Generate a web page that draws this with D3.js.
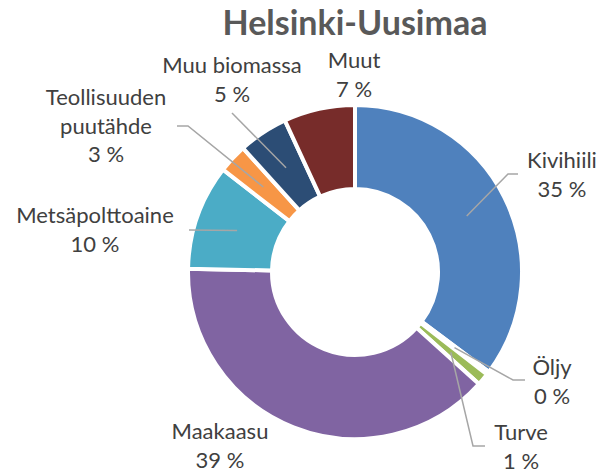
<!DOCTYPE html>
<html>
<head>
<meta charset="utf-8">
<script src="https://cdn.jsdelivr.net/npm/d3@7"></script>
<style>
  body { margin: 0; background: #fff; }
  .title { font-family: Lato, sans-serif; font-weight: bold; fill: #595959; }
  .labels { font-family: Lato, sans-serif; fill: #404040; }
</style>
</head>
<body>
<script>
//chart data
var categories = ["Kivihiili", "Öljy", "Turve", "Maakaasu", "Metsäpolttoaine", "Teollisuuden puutähde", "Muu biomassa", "Muut"];
var shares = [35.2, 0.3, 1.2, 38.6, 10.2, 2.8, 4.8, 6.9];
var percentLabels = ["35 %", "0 %", "1 %", "39 %", "10 %", "3 %", "5 %", "7 %"];
var nameLines = [["Kivihiili"], ["Öljy"], ["Turve"], ["Maakaasu"], ["Metsäpolttoaine"], ["Teollisuuden", "puutähde"], ["Muu biomassa"], ["Muut"]];
var colors = ["#4F81BD", "#C0504D", "#9BBB59", "#8064A2", "#4BACC6", "#F79646", "#2C4D75", "#772C2A"];

//label layout: text centre, first baseline, leader elbow (null = no leader)
var labelPos = [
    {x: 562, y: 168, elbow: [508, 174], end: [518, 174]},
    {x: 552, y: 375, elbow: [513, 380], end: [525, 380]},
    {x: 521, y: 440, elbow: [473, 446], end: [485, 446]},
    {x: 220, y: 439, elbow: null},
    {x: 95, y: 223, elbow: null, end: [189, 230]},
    {x: 106, y: 105, elbow: [188, 126], end: [177, 126]},
    {x: 232, y: 73, elbow: null, end: [232, 113]},
    {x: 354, y: 68, elbow: null}
];

window.onload = function(){
    var w = 600, h = 473;
    var cx = 355, cy = 272;
    var outerR = 167, innerR = 83;

    var svg = d3.select("body")
        .append("svg")
        .attr("width", w)
        .attr("height", h);

    var data = categories.map(function(c, i){
        return {name: c, value: shares[i], pct: percentLabels[i], lines: nameLines[i], color: colors[i], pos: labelPos[i]};
    });

    var pie = d3.pie()
        .sort(null)
        .value(function(d){ return d.value; });

    var arc = d3.arc()
        .innerRadius(innerR)
        .outerRadius(outerR);

    //arc used for leader start (middle of the ring)
    var midArc = d3.arc()
        .innerRadius(125)
        .outerRadius(125);

    var g = svg.append("g")
        .attr("transform", "translate(" + cx + "," + cy + ")");

    var arcs = pie(data);

    g.selectAll(".slice")
        .data(arcs)
        .enter()
        .append("path")
        .attr("class", "slice")
        .attr("d", arc)
        .style("fill", function(d){ return d.data.color; })
        .style("stroke", "#fff")
        .style("stroke-width", 4)
        .style("stroke-linejoin", "miter");

    //leader lines
    g.selectAll(".leader")
        .data(arcs.filter(function(d){ return d.data.pos.end; }))
        .enter()
        .append("polyline")
        .attr("class", "leader")
        .attr("points", function(d){
            var p = midArc.centroid(d);
            var pts = [p];
            if (d.data.pos.elbow) pts.push([d.data.pos.elbow[0] - cx, d.data.pos.elbow[1] - cy]);
            pts.push([d.data.pos.end[0] - cx, d.data.pos.end[1] - cy]);
            return pts.map(function(q){ return q.join(","); }).join(" ");
        })
        .style("fill", "none")
        .style("stroke", "#A6A6A6")
        .style("stroke-width", 1.5);

    //labels
    var labels = svg.selectAll(".labels")
        .data(data)
        .enter()
        .append("text")
        .attr("class", "labels")
        .attr("text-anchor", "middle")
        .style("font-size", "22px");

    labels.each(function(d){
        var t = d3.select(this);
        var lines = d.lines.concat([d.pct]);
        lines.forEach(function(s, i){
            t.append("tspan")
                .attr("x", d.pos.x)
                .attr("y", d.pos.y + i * 28.5)
                .text(s);
        });
    });

    svg.append("text")
        .attr("class", "title")
        .attr("text-anchor", "middle")
        .attr("x", 355)
        .attr("y", 35)
        .style("font-size", "34px")
        .text("Helsinki-Uusimaa");
};
</script>
</body>
</html>
